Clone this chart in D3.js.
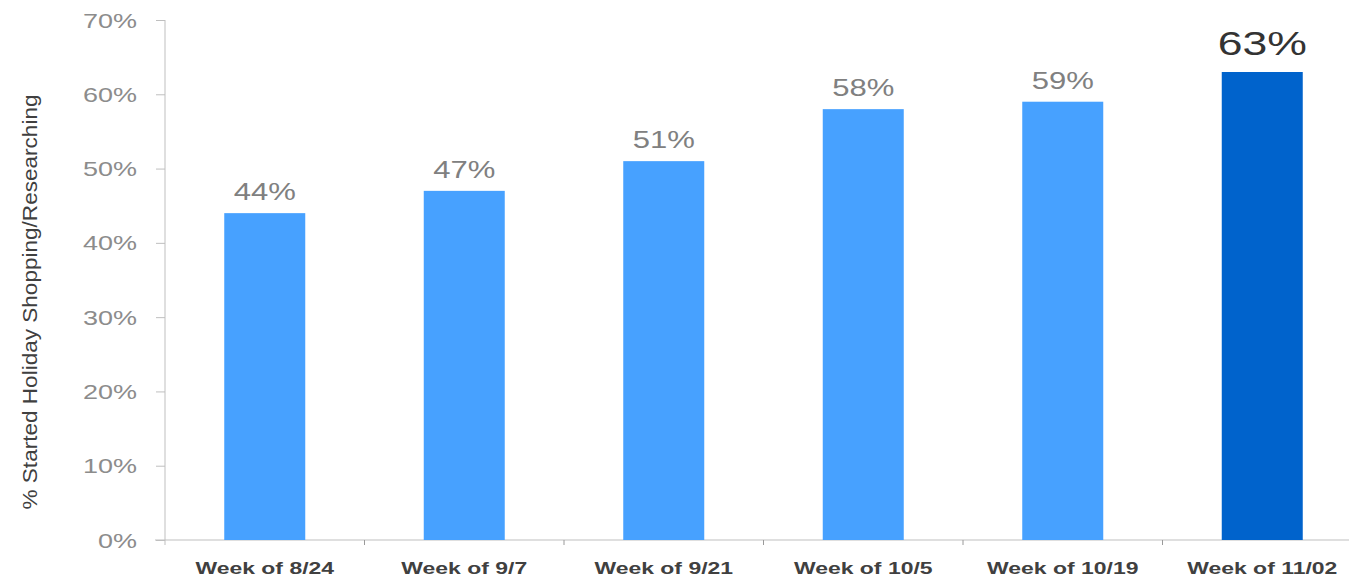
<!DOCTYPE html>
<html>
<head>
<meta charset="utf-8">
<script src="https://cdn.jsdelivr.net/npm/d3@7"></script>
<style>
  html, body { margin: 0; padding: 0; background: #fff; }
  svg { display: block; font-family: Arial, "Liberation Sans", sans-serif; }
</style>
</head>
<body>
<svg id="chart" width="1349" height="578"></svg>
<script>
const categories = ["Week of 8/24", "Week of 9/7", "Week of 9/21", "Week of 10/5", "Week of 10/19", "Week of 11/02"];
const values = [44, 47, 51, 58, 59, 63];
const highlighted = [false, false, false, false, false, true];
const yTicks = [0, 10, 20, 30, 40, 50, 60, 70];
const yTitle = "% Started Holiday Shopping/Researching";

const svg = d3.select("#chart");
const SX = 1.35; // horizontal stretch of the glyphs

const x = d3.scaleBand().domain(categories).range([165, 1362]).paddingInner(0.594).paddingOuter(0.297);
const y = d3.scaleLinear().domain([0, 70]).range([540, 20]);

const axisColor = "#bfbfbf";

// y axis
const gy = svg.append("g").attr("transform", "translate(165,0)")
  .call(d3.axisLeft(y).tickValues(yTicks).tickSize(9).tickSizeOuter(0).tickFormat(d => d + "%"));
gy.select(".domain").attr("stroke", axisColor).attr("d", `M0,${y(70)}V${y(0) + 5}`);
gy.selectAll(".tick line").attr("stroke", axisColor);
gy.selectAll(".tick text")
  .attr("x", -28 / SX).attr("dy", "0.35em")
  .attr("transform", `scale(${SX},1)`)
  .attr("fill", "#8c8c8c").style("font-size", "20px").style("font-family", "Arial, 'Liberation Sans', sans-serif");

// x axis
const gx = svg.append("g").attr("transform", `translate(0,${y(0)})`);
gx.append("line").attr("x1", 155).attr("x2", 1349).attr("y1", 0).attr("y2", 0).attr("stroke", axisColor);
const step = x.step();
const boundaries = categories.slice(0, -1).map(c => x(c) + x.bandwidth() + step * x.paddingInner() / 2);
gx.selectAll("line.bt").data(boundaries).join("line").attr("class", "bt")
  .attr("x1", d => d).attr("x2", d => d).attr("y1", 0).attr("y2", 5).attr("stroke", "#9a9a9a");

// x labels
svg.selectAll("text.xl").data(categories).join("text").attr("class", "xl")
  .attr("transform", d => `translate(${x(d) + x.bandwidth() / 2},574) scale(${SX},1)`)
  .attr("text-anchor", "middle").attr("fill", "#404040")
  .style("font-size", "17px").style("font-weight", "bold").text(d => d);

// bars
const data = categories.map((c, i) => ({ c, v: values[i], h: highlighted[i] }));
svg.selectAll("rect.bar").data(data).join("rect").attr("class", "bar")
  .attr("x", d => x(d.c)).attr("width", x.bandwidth())
  .attr("y", d => y(d.v)).attr("height", d => y(0) - y(d.v))
  .attr("fill", d => d.h ? "#0063cc" : "#47a1ff");

// value labels
svg.selectAll("text.vl").data(data).join("text").attr("class", "vl")
  .attr("transform", d => `translate(${x(d.c) + x.bandwidth() / 2},${y(d.v) - (d.h ? 17 : 13)}) scale(${SX},1)`)
  .attr("text-anchor", "middle")
  .attr("fill", d => d.h ? "#333333" : "#808080")
  .style("font-size", d => d.h ? "33px" : "23px")
  .text(d => d.v + "%");

// y title
svg.append("text")
  .attr("transform", "translate(37,302) rotate(-90)")
  .attr("text-anchor", "middle").attr("fill", "#404040")
  .style("font-size", "21px")
  .attr("textLength", 415).attr("lengthAdjust", "spacingAndGlyphs")
  .text(yTitle);
</script>
</body>
</html>
